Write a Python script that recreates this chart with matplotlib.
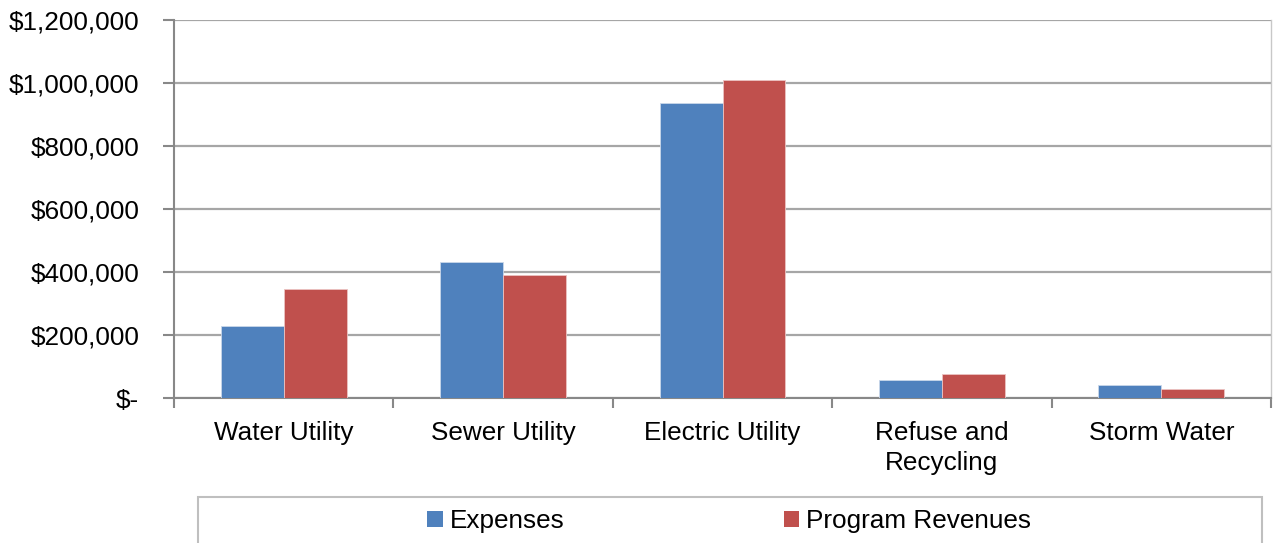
import matplotlib
matplotlib.use("Agg")
import matplotlib.pyplot as plt
import numpy as np
from matplotlib.patches import Rectangle, Patch
from matplotlib.ticker import FuncFormatter, FixedLocator

categories = ["Water Utility", "Sewer Utility", "Electric Utility", "Refuse and\nRecycling", "Storm Water"]
expenses = [230000, 432000, 935000, 56000, 42000]
revenues = [345000, 391000, 1009000, 76000, 28500]
series_names = ["Expenses", "Program Revenues"]
colors = ["#4F81BD", "#C0504D"]

plt.rcParams['font.family'] = ['Liberation Sans', 'DejaVu Sans']
FS = 18.8

fig = plt.figure(figsize=(12.73, 5.43), dpi=100)
ax = fig.add_axes([174/1273, 1-398/543, (1271-174)/1273, (398-20)/543])

x = np.arange(len(categories))
w = 0.287
ax.bar(x - w/2, expenses, w, color=colors[0], edgecolor="#C9D7EA", linewidth=0.6, zorder=3)
ax.bar(x + w/2, revenues, w, color=colors[1], edgecolor="#EBC3C2", linewidth=0.6, zorder=3)

ax.set_xlim(-0.5, len(categories) - 0.5)
ax.set_ylim(0, 1200000)
ax.set_yticks(np.arange(0, 1200001, 200000))
ax.yaxis.set_major_formatter(FuncFormatter(lambda v, p: "$-" if v == 0 else f"${v:,.0f}"))
ax.yaxis.grid(True, color="#A6A6A6", linewidth=1.6, zorder=0)

ax.set_xticks(x)
ax.set_xticklabels(categories, linespacing=1.3)
ax.xaxis.set_minor_locator(FixedLocator(np.arange(-0.5, len(categories), 1.0)))
ax.tick_params(axis='x', which='major', length=0, pad=16.5, labelsize=FS)
ax.tick_params(axis='x', which='minor', length=7, width=1.5, color="#888888", direction='out')
ax.tick_params(axis='y', length=8, width=1.5, color="#888888", direction='out', pad=17, labelsize=FS)

for s in ["left", "bottom"]:
    ax.spines[s].set_color("#888888")
    ax.spines[s].set_linewidth(1.5)
ax.spines["top"].set_visible(False)
ax.spines["right"].set_color("#C8C8C8")
ax.spines["right"].set_linewidth(1.0)

# legend frame
fig.patches.append(Rectangle((198/1273, -0.05), (1262-198)/1273, 1-497/543 + 0.05,
                             transform=fig.transFigure, facecolor="white",
                             edgecolor="#BFBFBF", linewidth=1.5, zorder=1))
handles = [Patch(facecolor=c, edgecolor='none') for c in colors]
fig.legend(handles, series_names, loc='center', bbox_to_anchor=(729/1273, 1-521/543),
           ncol=2, frameon=False, fontsize=FS, handlelength=0.6, handleheight=0.6,
           handletextpad=0.25, columnspacing=8.4, borderpad=0)

fig.savefig("out.png", dpi=100)
